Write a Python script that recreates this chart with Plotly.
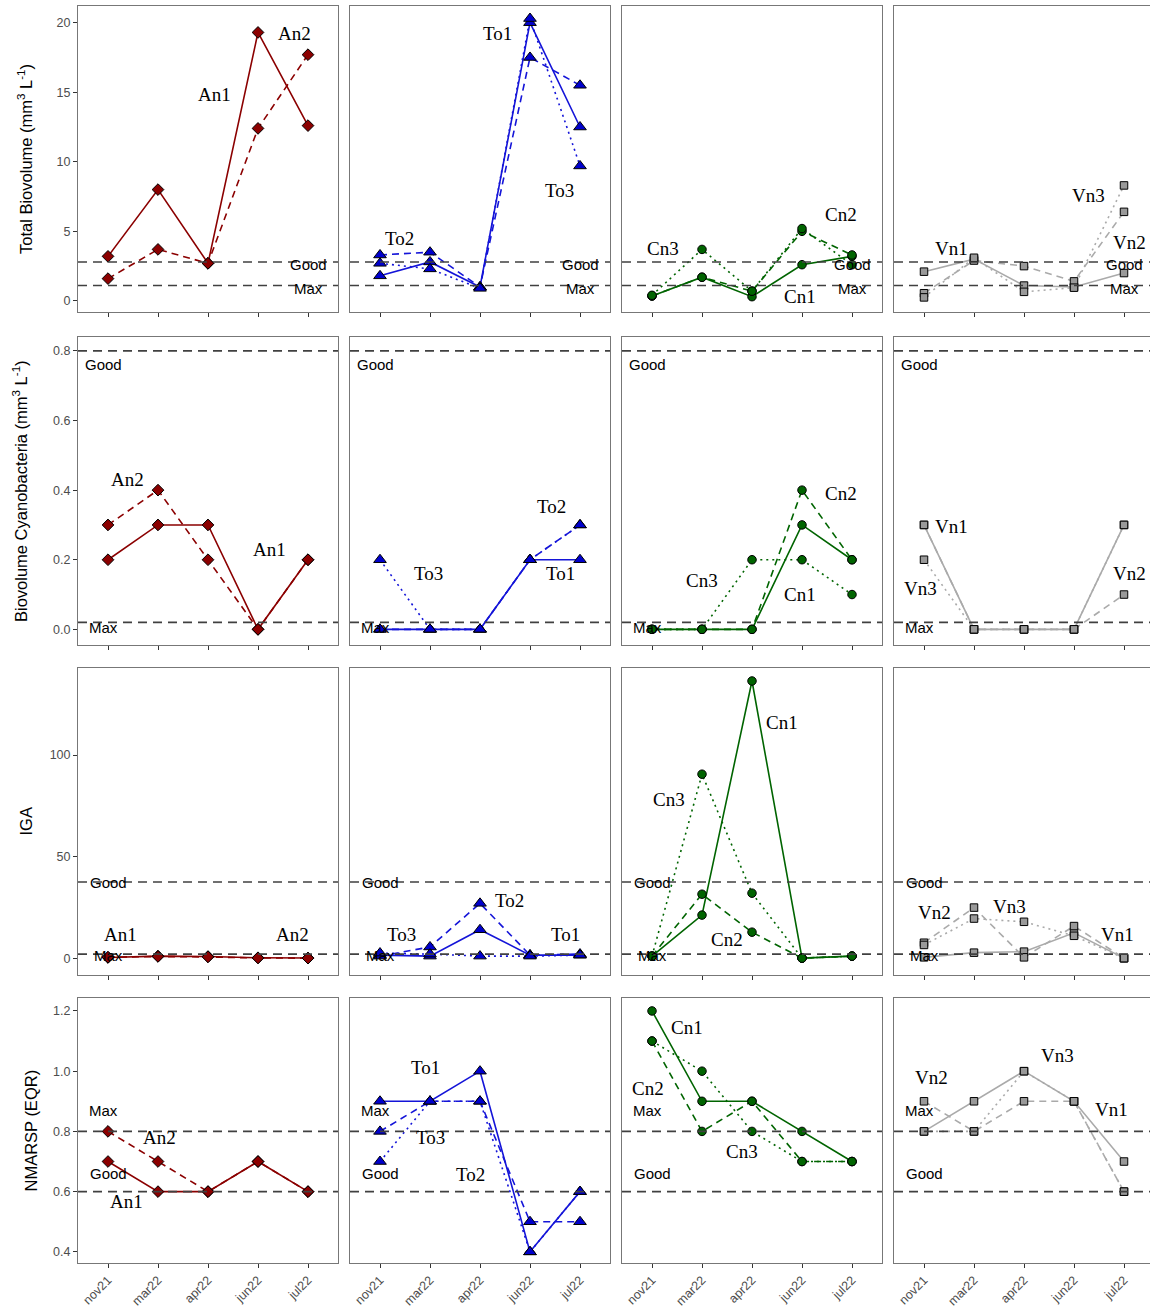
import plotly.graph_objects as go
from plotly.subplots import make_subplots

months = ["nov21", "mar22", "apr22", "jun22", "jul22"]

# ---- Row 1: Total Biovolume (mm3 L-1)
tb_An1 = [3.2, 8.0, 2.7, 19.3, 12.6]
tb_An2 = [1.6, 3.7, 2.7, 12.4, 17.7]
tb_To1 = [1.8, 2.8, 1.0, 20.0, 12.5]
tb_To2 = [3.3, 3.5, 1.0, 17.5, 15.5]
tb_To3 = [2.7, 2.3, 0.9, 20.3, 9.7]
tb_Cn1 = [0.35, 1.7, 0.3, 2.6, 3.2]
tb_Cn2 = [0.35, 1.7, 0.7, 5.0, 3.3]
tb_Cn3 = [0.4, 3.7, 0.7, 5.2, 2.6]
tb_Vn1 = [2.1, 3.0, 1.1, 1.0, 2.0]
tb_Vn2 = [0.55, 2.9, 2.5, 1.4, 6.4]
tb_Vn3 = [0.25, 3.1, 0.65, 0.95, 8.3]

# ---- Row 2: Biovolume Cyanobacteria (mm3 L-1)
cy_An1 = [0.2, 0.3, 0.3, 0.0, 0.2]
cy_An2 = [0.3, 0.4, 0.2, 0.0, 0.2]
cy_To1 = [0.0, 0.0, 0.0, 0.2, 0.2]
cy_To2 = [0.0, 0.0, 0.0, 0.2, 0.3]
cy_To3 = [0.2, 0.0, 0.0, 0.2, 0.3]
cy_Cn1 = [0.0, 0.0, 0.0, 0.3, 0.2]
cy_Cn2 = [0.0, 0.0, 0.0, 0.4, 0.2]
cy_Cn3 = [0.0, 0.0, 0.2, 0.2, 0.1]
cy_Vn1 = [0.3, 0.0, 0.0, 0.0, 0.3]
cy_Vn2 = [0.3, 0.0, 0.0, 0.0, 0.1]
cy_Vn3 = [0.2, 0.0, 0.0, 0.0, 0.3]

# ---- Row 3: IGA
iga_An1 = [0.3, 1.0, 0.8, 0.2, 0.1]
iga_An2 = [0.5, 0.8, 0.6, 0.1, 0.0]
iga_To1 = [1.5, 1.0, 14.0, 1.5, 1.5]
iga_To2 = [1.0, 5.5, 27.0, 1.5, 2.0]
iga_To3 = [2.5, 2.0, 1.0, 1.0, 1.5]
iga_Cn1 = [1.0, 21.2, 136.5, 0.0, 1.0]
iga_Cn2 = [1.0, 31.5, 12.8, 0.0, 1.0]
iga_Cn3 = [1.0, 90.6, 32.0, 0.0, 1.0]
iga_Vn1 = [0.4, 2.7, 3.2, 12.5, 0.0]
iga_Vn2 = [7.6, 24.9, 0.4, 15.8, 0.0]
iga_Vn3 = [6.5, 19.5, 17.9, 11.0, 0.0]

# ---- Row 4: NMARSP (EQR)
nm_An1 = [0.7, 0.6, 0.6, 0.7, 0.6]
nm_An2 = [0.8, 0.7, 0.6, 0.7, 0.6]
nm_To1 = [0.9, 0.9, 1.0, 0.4, 0.6]
nm_To2 = [0.8, 0.9, 0.9, 0.5, 0.5]
nm_To3 = [0.7, 0.9, 0.9, 0.4, 0.6]
nm_Cn1 = [1.2, 0.9, 0.9, 0.8, 0.7]
nm_Cn2 = [1.1, 0.8, 0.9, 0.7, 0.7]
nm_Cn3 = [1.1, 1.0, 0.8, 0.7, 0.7]
nm_Vn1 = [0.8, 0.9, 1.0, 0.9, 0.7]
nm_Vn2 = [0.9, 0.8, 0.9, 0.9, 0.6]
nm_Vn3 = [0.8, 0.8, 1.0, 0.9, 0.6]

# thresholds per row
good_vals = [2.8, 0.8, 37.5, 0.6]
max_vals = [1.1, 0.02, 2.0, 0.8]

row_titles = ["Total Biovolume (mm<sup>3</sup> L<sup>-1</sup>)",
              "Biovolume Cyanobacteria (mm<sup>3</sup> L<sup>-1</sup>)",
              "IGA", "NMARSP (EQR)"]
y_ticks = [[0, 5, 10, 15, 20], [0.0, 0.2, 0.4, 0.6, 0.8], [0, 50, 100],
           [0.4, 0.6, 0.8, 1.0, 1.2]]
y_ticktext = [["0", "5", "10", "15", "20"], ["0.0", "0.2", "0.4", "0.6", "0.8"],
              ["0", "50", "100"], ["0.4", "0.6", "0.8", "1.0", "1.2"]]
y_ranges = [[-0.8, 21.2], [-0.045, 0.84], [-8.3, 142.9], [0.363, 1.243]]

data = [
    {"An": [tb_An1, tb_An2], "To": [tb_To1, tb_To2, tb_To3],
     "Cn": [tb_Cn1, tb_Cn2, tb_Cn3], "Vn": [tb_Vn1, tb_Vn2, tb_Vn3]},
    {"An": [cy_An1, cy_An2], "To": [cy_To1, cy_To2, cy_To3],
     "Cn": [cy_Cn1, cy_Cn2, cy_Cn3], "Vn": [cy_Vn1, cy_Vn2, cy_Vn3]},
    {"An": [iga_An1, iga_An2], "To": [iga_To1, iga_To2, iga_To3],
     "Cn": [iga_Cn1, iga_Cn2, iga_Cn3], "Vn": [iga_Vn1, iga_Vn2, iga_Vn3]},
    {"An": [nm_An1, nm_An2], "To": [nm_To1, nm_To2, nm_To3],
     "Cn": [nm_Cn1, nm_Cn2, nm_Cn3], "Vn": [nm_Vn1, nm_Vn2, nm_Vn3]},
]

# label placement (x in category index units, y in data units)
labels = [
    {"An": [("An1", 2.13, 14.85), ("An2", 3.72, 19.25)],
     "To": [("To1", 2.35, 19.25), ("To2", 0.38, 4.5), ("To3", 3.58, 7.9)],
     "Cn": [("Cn1", 2.95, 0.3), ("Cn2", 3.78, 6.2), ("Cn3", 0.22, 3.75)],
     "Vn": [("Vn1", 0.55, 3.75), ("Vn2", 4.1, 4.2), ("Vn3", 3.28, 7.6)]},
    {"An": [("An2", 0.38, 0.43), ("An1", 3.22, 0.23)],
     "To": [("To2", 3.42, 0.354), ("To3", 0.96, 0.16), ("To1", 3.6, 0.16)],
     "Cn": [("Cn2", 3.78, 0.39), ("Cn3", 1.0, 0.14), ("Cn1", 2.95, 0.10)],
     "Vn": [("Vn1", 0.55, 0.296), ("Vn3", -0.08, 0.118), ("Vn2", 4.1, 0.16)]},
    {"An": [("An1", 0.24, 11.8), ("An2", 3.68, 11.8)],
     "To": [("To2", 2.58, 28.6), ("To3", 0.42, 11.8), ("To1", 3.7, 11.8)],
     "Cn": [("Cn1", 2.6, 116), ("Cn3", 0.34, 78), ("Cn2", 1.5, 9.4)],
     "Vn": [("Vn2", 0.2, 22.7), ("Vn3", 1.7, 25.6), ("Vn1", 3.86, 11.8)]},
    {"An": [("An2", 1.03, 0.779), ("An1", 0.36, 0.566)],
     "To": [("To1", 0.9, 1.011), ("To3", 1.01, 0.779), ("To2", 1.81, 0.656)],
     "Cn": [("Cn1", 0.7, 1.144), ("Cn2", -0.08, 0.942), ("Cn3", 1.79, 0.732)],
     "Vn": [("Vn2", 0.14, 0.978), ("Vn3", 2.67, 1.051), ("Vn1", 3.74, 0.872)]},
]
# Good / Max text placement per row: (x, y) for Good, (x, y) for Max
gm_pos = [((4.0, 2.6), (4.0, 0.9)),
          ((-0.1, 0.76), (-0.1, 0.004)),
          ((0.0, 37.5), (0.0, 1.5)),
          ((0.0, 0.66), (-0.1, 0.87))]

groups = ["An", "To", "Cn", "Vn"]
line_col = {"An": "#8B0000", "To": "#1414D8", "Cn": "#006400", "Vn": "#AAAAAA"}
fill_col = {"An": "#8B0000", "To": "#0000CD", "Cn": "#006400", "Vn": "#999999"}
symbol = {"An": "diamond", "To": "triangle-up", "Cn": "circle", "Vn": "square"}
msize = {"An": 9, "To": 11, "Cn": 8.5, "Vn": 7.5}
dashes = ["solid", "7px,5px", "2px,4px"]

W, H = 1150, 1308
row_px = [(6, 312), (337, 645), (668, 975), (998, 1263)]
col_px = [(78, 338), (350, 610), (622, 882), (894, 1150)]

fig = make_subplots(rows=4, cols=4)

def ax(r, c):
    n = r * 4 + c + 1
    return ("" if n == 1 else str(n))

shapes = []
annos = []
for r in range(4):
    for c, g in enumerate(groups):
        vals = data[r][g]
        for i, v in enumerate(vals):
            fig.add_trace(go.Scatter(x=months, y=v, mode="lines",
                                     line=dict(color=line_col[g], width=1.6, dash=dashes[i]),
                                     showlegend=False, hoverinfo="skip"),
                          row=r + 1, col=c + 1)
        for i, v in enumerate(vals):
            fig.add_trace(go.Scatter(x=months, y=v, mode="markers",
                                     marker=dict(symbol=symbol[g], size=msize[g],
                                                 color=fill_col[g],
                                                 line=dict(color="black", width=1)),
                                     showlegend=False, hoverinfo="skip"),
                          row=r + 1, col=c + 1)
        a = ax(r, c)
        for val in (good_vals[r], max_vals[r]):
            shapes.append(dict(type="line", xref="x" + a + " domain", yref="y" + a,
                               x0=0, x1=1, y0=val, y1=val,
                               line=dict(color="#404040", width=1.6, dash="9px,6px"),
                               layer="above"))
        (gx, gy), (mx, my) = gm_pos[r]
        annos.append(dict(xref="x" + a, yref="y" + a, x=gx, y=gy, text="Good",
                          showarrow=False, font=dict(family="Liberation Sans", size=15, color="black")))
        annos.append(dict(xref="x" + a, yref="y" + a, x=mx, y=my, text="Max",
                          showarrow=False, font=dict(family="Liberation Sans", size=15, color="black")))
        for (t, lx, ly) in labels[r][g]:
            annos.append(dict(xref="x" + a, yref="y" + a, x=lx, y=ly, text=t,
                              showarrow=False,
                              font=dict(family="Liberation Serif", size=19, color="black")))
        xd = [col_px[c][0] / W, col_px[c][1] / W]
        yd = [1 - row_px[r][1] / H, 1 - row_px[r][0] / H]
        xr = [-0.6, 4.6] if c < 3 else [-0.6, 4.6 - 4 / 50.0]
        fig.update_xaxes(domain=xd, range=xr, type="category",
                         categoryorder="array", categoryarray=months,
                         showline=True, mirror=True, linecolor="#777777", linewidth=1,
                         ticks="outside", ticklen=4, tickcolor="#333333",
                         showgrid=False, zeroline=False,
                         showticklabels=(r == 3), tickangle=-45,
                         tickfont=dict(family="Liberation Sans", size=12.5, color="#4D4D4D"),
                         row=r + 1, col=c + 1)
        fig.update_yaxes(domain=yd, range=y_ranges[r],
                         showline=True, mirror=True, linecolor="#777777", linewidth=1,
                         showgrid=False, zeroline=False,
                         ticks="outside" if c == 0 else "", ticklen=4, tickcolor="#333333",
                         tickvals=y_ticks[r], ticktext=y_ticktext[r],
                         showticklabels=(c == 0),
                         tickfont=dict(family="Liberation Sans", size=12.5, color="#4D4D4D"),
                         row=r + 1, col=c + 1)

title_x = [25, 20, 25, 30]
for r in range(4):
    cy = (row_px[r][0] + row_px[r][1]) / 2
    annos.append(dict(xref="paper", yref="paper", x=title_x[r] / W, y=1 - cy / H,
                      text=row_titles[r], textangle=-90, showarrow=False,
                      xanchor="center", yanchor="middle",
                      font=dict(family="Liberation Sans", size=16.5, color="black")))

fig.update_layout(width=W, height=H, margin=dict(l=0, r=0, t=0, b=0),
                  plot_bgcolor="white", paper_bgcolor="white",
                  shapes=shapes, annotations=annos, showlegend=False)

fig.write_html("out.html")
